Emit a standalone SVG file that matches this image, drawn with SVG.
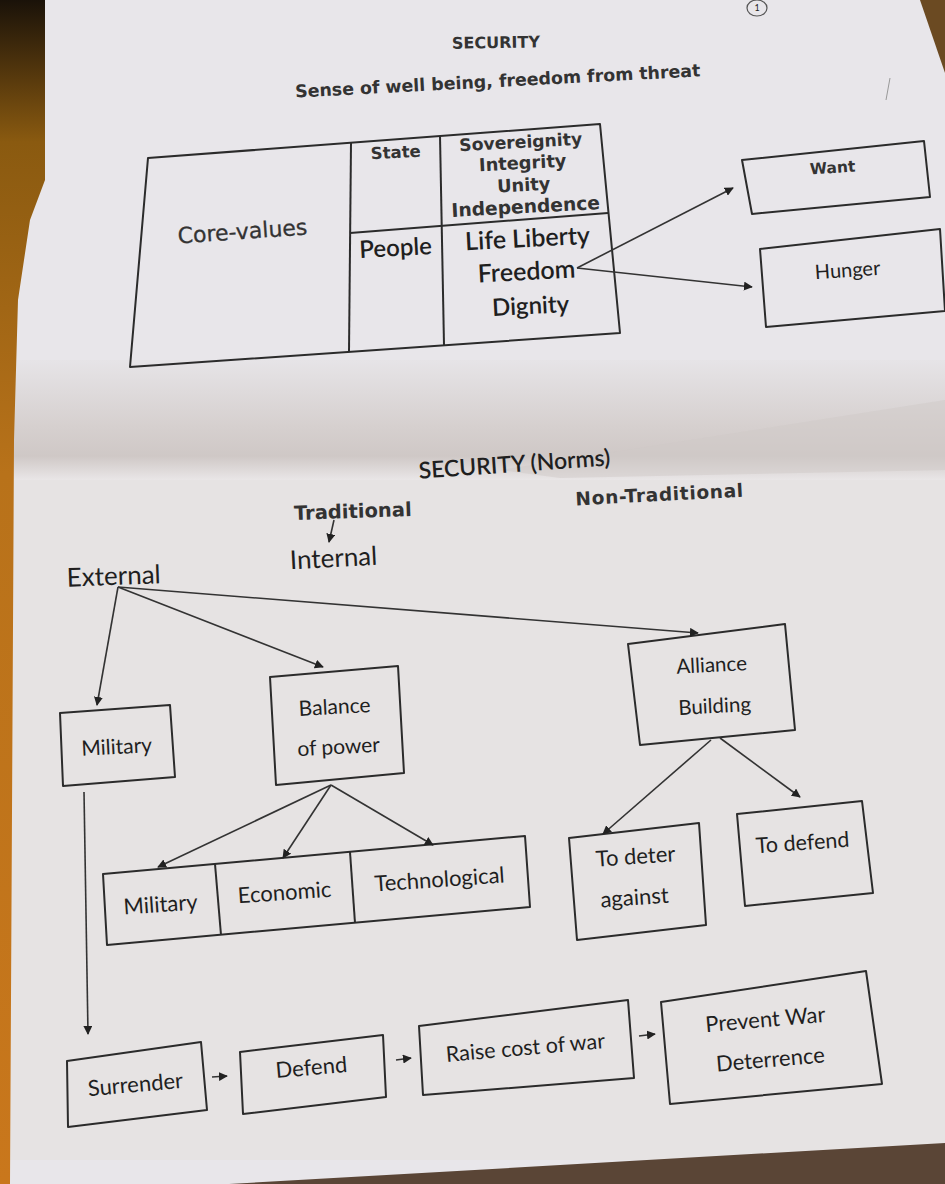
<svg xmlns="http://www.w3.org/2000/svg" width="945" height="1184" viewBox="0 0 945 1184">
<style>
.box{fill:none;stroke:#2b2b2b;stroke-width:2;stroke-linejoin:round}
.ln{fill:none;stroke:#333;stroke-width:1.6}
.t{font-family:Lato,"Open Sans","Liberation Sans",sans-serif;fill:#1f1f1f;text-anchor:middle}
.d{font-family:"DejaVu Sans",Verdana,"Liberation Sans",sans-serif;fill:#333;text-anchor:middle}
.b{font-weight:bold}
</style>
<defs>
<marker id="ah" viewBox="0 0 10 10" refX="9" refY="5" markerWidth="9" markerHeight="9" markerUnits="userSpaceOnUse" orient="auto"><path d="M0,0 L10,5 L0,10 z" fill="#222"/></marker>
<linearGradient id="fold" x1="0" y1="0" x2="0" y2="1">
<stop offset="0" stop-color="#e6e4e7"/>
<stop offset="0.55" stop-color="#d6d0cf"/>
<stop offset="0.8" stop-color="#cfc8c6"/>
<stop offset="1" stop-color="#e9e6e7"/>
</linearGradient>
<linearGradient id="edge" x1="0" y1="0" x2="0" y2="1">
<stop offset="0" stop-color="#1a1209"/>
<stop offset="0.12" stop-color="#8a5a10"/>
<stop offset="0.4" stop-color="#b8721a"/>
<stop offset="1" stop-color="#c9771c"/>
</linearGradient>
</defs>
<rect width="945" height="1184" fill="#e8e6ea"/>
<rect x="0" y="360" width="945" height="120" fill="url(#fold)"/>
<path d="M500,470 L945,400 L945,470 L560,478 z" fill="#cfc9c8" opacity="0.5"/>
<rect x="0" y="480" width="945" height="680" fill="#e6e3e3"/>
<path d="M0,0 L45,0 L45,180 L30,220 L18,300 L14,440 L10,1184 L0,1184 z" fill="url(#edge)"/>
<path d="M229,1184 L945,1143 L945,1184 z" fill="#5a4536"/>
<path d="M920,0 L945,0 L945,73 z" fill="#6b4a22"/>
<ellipse cx="757" cy="8" rx="10" ry="8" fill="none" stroke="#555" stroke-width="1.2"/>
<text class="t" x="757" y="11" font-size="9">1</text>
<path d="M890,78 L886,100" stroke="#999" stroke-width="1"/>

<g id="title1"><text class="d b" x="496" y="48" font-size="16" transform="rotate(-1 496 48)">SECURITY</text></g>
<g id="subtitle1"><text class="d b" x="498" y="87" font-size="17.4" transform="rotate(-3 498 87)">Sense of well being, freedom from threat</text></g>

<g id="core-table">
<polygon class="box" points="148,158 600,124 620,333 130,367"/>
<line class="box" x1="351" y1="143" x2="349" y2="352"/>
<line class="box" x1="440" y1="136" x2="444" y2="345"/>
<line class="box" x1="350" y1="233" x2="608" y2="213"/>
<text class="d" x="243" y="239" font-size="22" stroke="#333" stroke-width="0.3" transform="rotate(-4 243 239)">Core-values</text>
<text class="d b" x="396" y="158" font-size="16.5" transform="rotate(-3 396 158)">State</text>
<text class="t" x="396" y="256" font-size="24" font-weight="600" transform="rotate(-3 396 256)">People</text>
<text class="d b" x="521" y="148" font-size="17.2" transform="rotate(-3 521 148)">Sovereignity</text>
<text class="d b" x="523" y="169" font-size="17.8" transform="rotate(-3 523 169)">Integrity</text>
<text class="d b" x="524" y="191" font-size="17.8" transform="rotate(-3 524 191)">Unity</text>
<text class="d b" x="526" y="213" font-size="18.7" transform="rotate(-3 526 213)">Independence</text>
<text class="t" x="528" y="247" font-size="25" font-weight="600" transform="rotate(-3 528 247)">Life Liberty</text>
<text class="t" x="527" y="280" font-size="25" font-weight="600" transform="rotate(-3 527 280)">Freedom</text>
<text class="t" x="531" y="314" font-size="24" font-weight="600" transform="rotate(-3 531 314)">Dignity</text>
</g>

<g id="want"><polygon class="box" points="742,160 924,141 930,197 752,214"/>
<text class="d b" x="833" y="173" font-size="15.5" transform="rotate(-4 833 173)">Want</text></g>
<g id="hunger"><polygon class="box" points="760,249 940,229 945,311 766,327"/>
<text class="t" x="848" y="277" font-size="20" transform="rotate(-4 848 277)">Hunger</text></g>

<g id="title2"><text class="t" x="515" y="472" font-size="23" font-weight="600" transform="rotate(-4 515 472)">SECURITY (Norms)</text></g>
<g id="non-traditional"><text class="d b" x="660" y="501" font-size="18.5" letter-spacing="0.7" transform="rotate(-3 660 501)">Non-Traditional</text></g>
<g id="traditional"><text class="d b" x="353" y="518" font-size="19.5" transform="rotate(-2 353 518)">Traditional</text></g>
<g id="internal"><text class="t" x="334" y="567" font-size="26" transform="rotate(-3 334 567)">Internal</text></g>
<g id="external"><text class="t" x="114" y="585" font-size="26" transform="rotate(-2 114 585)">External</text></g>

<g id="military1"><polygon class="box" points="60,713 170,705 175,777 63,786"/>
<text class="t" x="117" y="754" font-size="21" transform="rotate(-3 117 754)">Military</text></g>
<g id="balance"><polygon class="box" points="270,677 398,666 404,773 276,785"/>
<text class="t" x="335" y="714" font-size="21" transform="rotate(-3 335 714)">Balance</text>
<text class="t" x="339" y="754" font-size="21" transform="rotate(-3 339 754)">of power</text></g>
<g id="alliance"><polygon class="box" points="628,644 785,624 795,730 640,745"/>
<text class="t" x="712" y="672" font-size="20.5" transform="rotate(-3 712 672)">Alliance</text>
<text class="t" x="715" y="713" font-size="20.5" transform="rotate(-3 715 713)">Building</text></g>

<g id="power-types">
<polygon class="box" points="103,874 525,836 530,907 107,945"/>
<line class="box" x1="215" y1="864" x2="221" y2="935"/>
<line class="box" x1="350" y1="852" x2="355" y2="923"/>
<text class="t" x="161" y="912" font-size="22" transform="rotate(-4 161 912)">Military</text>
<text class="t" x="285" y="900" font-size="22" transform="rotate(-4 285 900)">Economic</text>
<text class="t" x="440" y="887" font-size="22" transform="rotate(-4 440 887)">Technological</text>
</g>

<g id="to-deter"><polygon class="box" points="569,838 699,823 706,925 577,940"/>
<text class="t" x="636" y="864" font-size="22" transform="rotate(-4 636 864)">To deter</text>
<text class="t" x="635" y="905" font-size="22" transform="rotate(-4 635 905)">against</text></g>
<g id="to-defend"><polygon class="box" points="737,814 862,801 873,893 745,906"/>
<text class="t" x="803" y="850" font-size="21.5" transform="rotate(-4 803 850)">To defend</text></g>

<g id="surrender"><polygon class="box" points="67,1061 201,1042 207,1110 68,1127"/>
<text class="t" x="136" y="1092" font-size="22" transform="rotate(-5 136 1092)">Surrender</text></g>
<g id="defend"><polygon class="box" points="240,1052 383,1035 386,1097 243,1114"/>
<text class="t" x="312" y="1075" font-size="22" transform="rotate(-5 312 1075)">Defend</text></g>
<g id="raise-cost"><polygon class="box" points="419,1026 628,1000 634,1078 423,1095"/>
<text class="t" x="526" y="1055" font-size="21.5" transform="rotate(-5 526 1055)">Raise cost of war</text></g>
<g id="prevent-war"><polygon class="box" points="661,1002 866,971 882,1084 670,1104"/>
<text class="t" x="766" y="1027" font-size="22" transform="rotate(-5 766 1027)">Prevent War</text>
<text class="t" x="771" y="1067" font-size="22" transform="rotate(-5 771 1067)">Deterrence</text></g>

<g id="connectors">
<line class="ln" x1="577" y1="268" x2="733" y2="188" marker-end="url(#ah)"/>
<line class="ln" x1="577" y1="268" x2="752" y2="287" marker-end="url(#ah)"/>
<line class="ln" x1="334" y1="520" x2="329" y2="542" marker-end="url(#ah)"/>
<line class="ln" x1="118" y1="587" x2="97" y2="705" marker-end="url(#ah)"/>
<line class="ln" x1="118" y1="587" x2="323" y2="667" marker-end="url(#ah)"/>
<line class="ln" x1="118" y1="587" x2="698" y2="633" marker-end="url(#ah)"/>
<line class="ln" x1="331" y1="785" x2="158" y2="867" marker-end="url(#ah)"/>
<line class="ln" x1="331" y1="785" x2="283" y2="858" marker-end="url(#ah)"/>
<line class="ln" x1="331" y1="785" x2="433" y2="845" marker-end="url(#ah)"/>
<line class="ln" x1="711" y1="740" x2="603" y2="834" marker-end="url(#ah)"/>
<line class="ln" x1="720" y1="738" x2="800" y2="797" marker-end="url(#ah)"/>
<line class="ln" x1="84" y1="792" x2="88" y2="1034" marker-end="url(#ah)"/>
<line class="ln" x1="212" y1="1077" x2="227" y2="1076" marker-end="url(#ah)"/>
<line class="ln" x1="396" y1="1060" x2="411" y2="1058" marker-end="url(#ah)"/>
<line class="ln" x1="639" y1="1036" x2="655" y2="1034" marker-end="url(#ah)"/>
</g>
</svg>
